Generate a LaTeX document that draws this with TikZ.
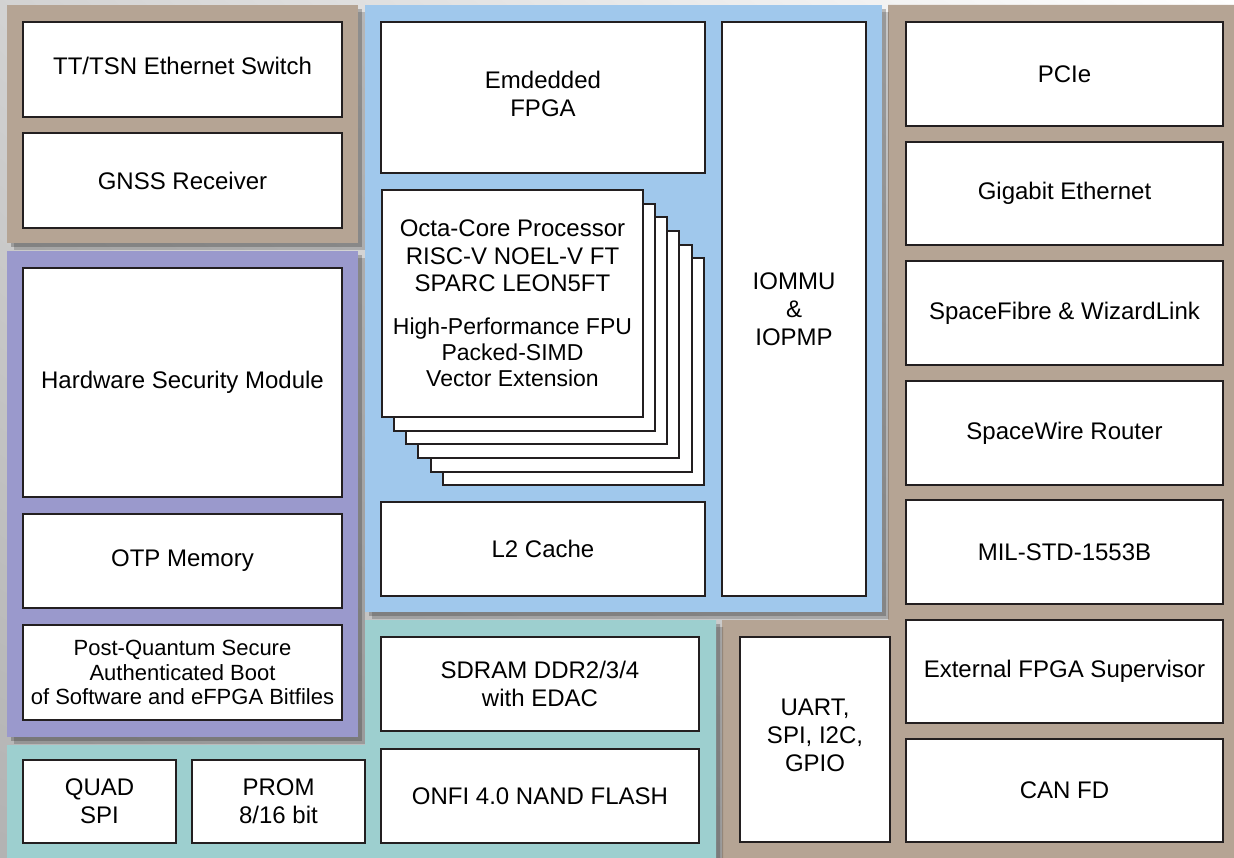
\documentclass[tikz,border=0pt]{standalone}
\usepackage{fontspec}
\setmainfont{Liberation Sans}
\usetikzlibrary{shadows,shadings}
\definecolor{pbrown}{RGB}{181,164,148}
\definecolor{ppurple}{RGB}{154,153,204}
\definecolor{pblue}{RGB}{160,200,236}
\definecolor{pteal}{RGB}{157,207,207}
\definecolor{boxline}{RGB}{35,31,32}
\newcommand\bx[6][]{\node[box, minimum width=#5pt-#3pt, minimum height=#6pt-#4pt, #1] (#2) at ({(#3+#5)/2},{(#4+#6)/2})}
\newcommand\smf{\fontsize{23}{26}\selectfont}
\newcommand\pqf{\fontsize{22}{24.5}\selectfont}
\begin{document}
\begin{tikzpicture}[x=1pt,y=-1pt,
  box/.style={draw=boxline, fill=white, line width=2.1pt, inner sep=0pt, align=center,
    font=\fontsize{24}{28}\selectfont},
  panel/.style={drop shadow={shadow xshift=7pt,shadow yshift=-7pt,opacity=0.18,fill=black},
                drop shadow={shadow xshift=4pt,shadow yshift=-4pt,opacity=0.3,fill=black!80}}]
\useasboundingbox (0,0) rectangle (1234,858);
% background
\shade[upper left=gray!35, upper right=white, lower left=gray!60, lower right=gray!45]
  (0,0) rectangle (1234,858);
% panels
\fill[pbrown, panel] (888,5) -- (1234,5) -- (1234,858) -- (722,858) -- (722,620) -- (888,620) -- cycle;
\fill[pteal, panel] (365,620) -- (716,620) -- (716,858) -- (7,858) -- (7,745) -- (365,745) -- cycle;
\fill[pblue, panel] (365,5) rectangle (882,612);
\fill[ppurple, panel] (7,251) rectangle (358,737);
\fill[pbrown, panel] (7,5) rectangle (358,243);
% top-left
\bx[text depth=7pt]{tsn}{23}{22}{342}{117}{TT/TSN Ethernet Switch};
\bx{gnss}{23}{133}{342}{228}{GNSS Receiver};
% security
\bx{hsm}{23}{268}{342}{497}{Hardware Security Module};
\bx{otp}{23}{514}{342}{608}{OTP Memory};
\bx[font=\pqf]{pq}{23}{625}{342}{720}{\pqf Post-Quantum Secure\\\pqf Authenticated Boot\\\pqf of Software and eFPGA Bitfiles};
% memory
\bx{qspi}{23}{760}{176}{843}{QUAD\\SPI};
\bx{prom}{192}{760}{365}{843}{PROM\\8/16 bit};
\bx{sdram}{381}{637}{699}{731}{SDRAM DDR2/3/4\\with EDAC};
\bx{onfi}{381}{749}{699}{843}{ONFI 4.0 NAND FLASH};
% processor area
\bx[text depth=8pt]{efpga}{381}{22}{705}{173}{Emdedded\\FPGA};
\bx{core6}{443}{258}{704}{485}{};
\bx{core5}{431}{245}{692}{472}{};
\bx{core4}{418}{231}{679}{458}{};
\bx{core3}{406}{217}{667}{444}{};
\bx{core2}{394}{204}{655}{431}{};
\bx[font=\fontsize{24}{26}\selectfont]{core1}{382}{190}{643}{417}{Octa-Core Processor\\[1.5pt]RISC-V NOEL-V FT\\[1.5pt]SPARC LEON5FT\\[17pt]\smf High-Performance FPU\\\smf Packed-SIMD\\\smf Vector Extension};
\bx{l2}{381}{502}{705}{596}{L2 Cache};
\bx{iommu}{722}{22}{866}{596}{IOMMU\\\&\\IOPMP};
% interfaces
\bx{pcie}{906}{22}{1223}{126}{PCIe};
\bx{gige}{906}{142}{1223}{245}{Gigabit Ethernet};
\bx{sfib}{906}{261}{1223}{365}{SpaceFibre \& WizardLink};
\bx{swr}{906}{381}{1223}{485}{SpaceWire Router};
\bx{mil}{906}{500}{1223}{604}{MIL-STD-1553B};
\bx{extf}{906}{620}{1223}{723}{External FPGA Supervisor};
\bx{can}{906}{739}{1223}{842}{CAN FD};
\bx[text depth=8pt]{uart}{740}{637}{890}{842}{UART,\\SPI, I2C,\\GPIO};
\end{tikzpicture}
\end{document}
